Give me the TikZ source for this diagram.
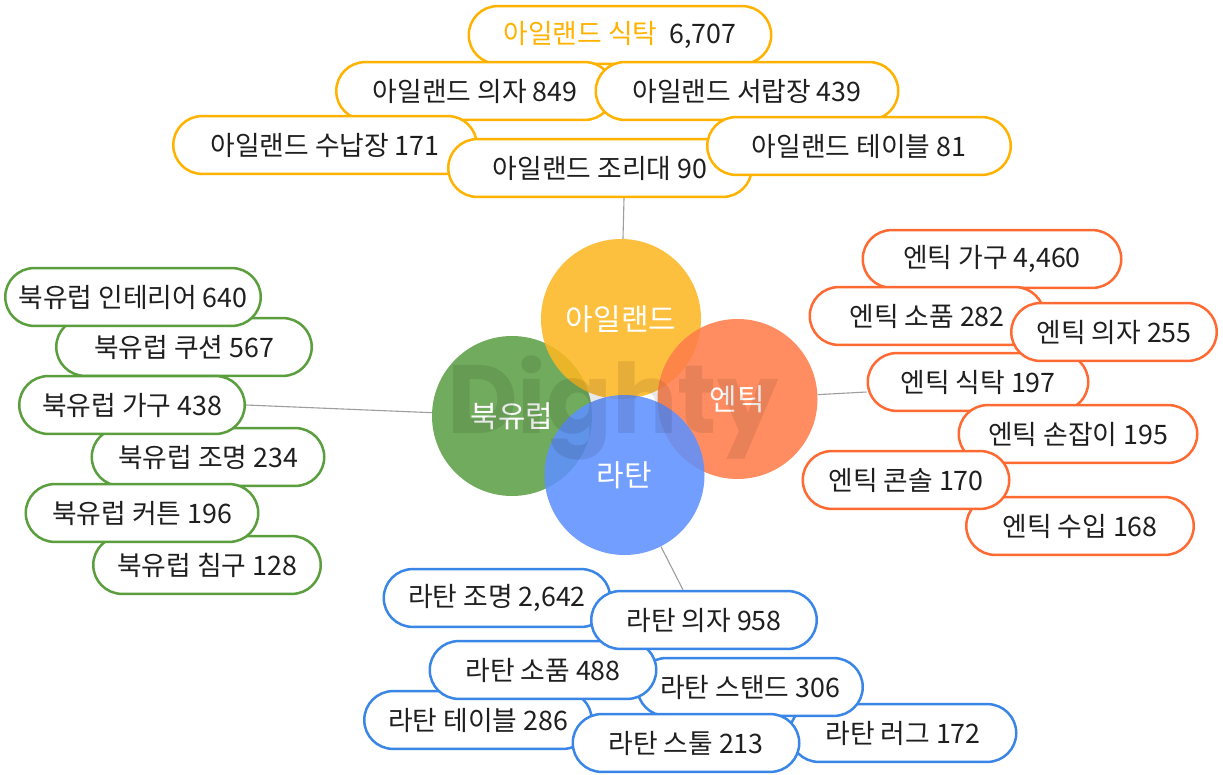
\documentclass[tikz,border=0pt]{standalone}
\usepackage{fontspec}
\setmainfont{Noto Sans CJK KR}
\newfontfamily\wmfont{Poppins}
\definecolor{irlline}{HTML}{FFB300}
\definecolor{irlfill}{HTML}{FDB722}
\definecolor{nrdline}{HTML}{5A9E3E}
\definecolor{nrdfill}{HTML}{5C9F45}
\definecolor{antline}{HTML}{FF6A33}
\definecolor{antfill}{HTML}{FF7D4A}
\definecolor{ratline}{HTML}{3A86E6}
\definecolor{ratfill}{HTML}{5E90FF}
\tikzset{
  pill/.style={draw, fill=white, rectangle, rounded corners=28.9pt, line width=2.5pt,
    minimum height=57.8pt, inner sep=0pt, text=black!88,
    font=\fontsize{26.8pt}{31pt}\selectfont},
  irl/.style={pill, draw=irlline},
  nrd/.style={pill, draw=nrdline},
  ant/.style={pill, draw=antline},
  rat/.style={pill, draw=ratline},
  hub/.style={circle, minimum size=160pt, inner sep=0pt, fill opacity=0.87,
    text opacity=1, text=white, font=\fontsize{30pt}{34pt}\selectfont},
  link/.style={draw=black!38, line width=1.1pt}
}
\begin{document}
\begin{tikzpicture}[x=1pt,y=-1pt]
  \useasboundingbox (0,0) rectangle (1223,775);
  \fill[white] (0,0) rectangle (1223,775);

  \node[hub, fill=nrdfill] (nordic) at (512,416) {북유럽};
  \node[hub, fill=irlfill] (ireland) at (621,319) {아일랜드};
  \node[hub, fill=antfill] (antique) at (737.5,399) {엔틱};
  \node[hub, fill=ratfill] (rattan) at (624.5,475) {라탄};
  \node[anchor=base, text=black, text opacity=0.09,
    font=\wmfont\bfseries\fontsize{97pt}{97pt}\selectfont] (mark) at (613,433) {Dighty};

  \node[irl, minimum width=302.5pt] (irl1) at (620,35) {{\color{irlline}아일랜드 식탁}\ \ 6,707};
  \node[irl, minimum width=277.5pt] (irl2) at (475,91) {아일랜드 의자 849};
  \node[irl, minimum width=302.5pt] (irl3) at (747,91) {아일랜드 서랍장 439};
  \node[irl, minimum width=303.5pt] (irl4) at (325,145) {아일랜드 수납장 171};
  \node[irl, minimum width=303.5pt] (irl5) at (600,168) {아일랜드 조리대 90};
  \node[irl, minimum width=303.5pt] (irl6) at (859,146) {아일랜드 테이블 81};

  \node[nrd, minimum width=255.5pt] (nrd2) at (184,347) {북유럽 쿠션 567};
  \node[nrd, minimum width=255.5pt] (nrd1) at (133,297) {북유럽 인테리어 640};
  \node[nrd, minimum width=232.5pt] (nrd4) at (208,457) {북유럽 조명 234};
  \node[nrd, minimum width=225.5pt] (nrd3) at (132,405) {북유럽 가구 438};
  \node[nrd, minimum width=227.5pt] (nrd6) at (207,565) {북유럽 침구 128};
  \node[nrd, minimum width=232.5pt] (nrd5) at (142,513) {북유럽 커튼 196};

  \node[ant, minimum width=258.5pt] (ant1) at (992,259) {엔틱 가구 4,460};
  \node[ant, minimum width=234.5pt] (ant2) at (927,316) {엔틱 소품 282};
  \node[ant, minimum width=220.5pt] (ant4) at (978,382) {엔틱 식탁 197};
  \node[ant, minimum width=205.5pt] (ant3) at (1114,332) {엔틱 의자 255};
  \node[ant, minimum width=238.5pt] (ant5) at (1078,434) {엔틱 손잡이 195};
  \node[ant, minimum width=227.5pt] (ant7) at (1080,526) {엔틱 수입 168};
  \node[ant, minimum width=206.5pt] (ant6) at (906,480) {엔틱 콘솔 170};

  \node[rat, minimum width=226.5pt] (rat1) at (497,598) {라탄 조명 2,642};
  \node[rat, minimum width=226.5pt] (rat7) at (903,733) {라탄 러그 172};
  \node[rat, minimum width=227.5pt] (rat5) at (478,720) {라탄 테이블 286};
  \node[rat, minimum width=225.5pt] (rat4) at (750,687) {라탄 스탠드 306};
  \node[rat, minimum width=226.5pt] (rat3) at (543,670) {라탄 소품 488};
  \node[rat, minimum width=225.5pt] (rat2) at (704,620) {라탄 의자 958};
  \node[rat, minimum width=226.5pt] (rat6) at (686,743) {라탄 스툴 213};

  \draw[link] (ireland) -- ([xshift=24pt]irl5.south);
  \draw[link] (nordic) -- (nrd3.east);
  \draw[link] (antique) -- ([yshift=-10pt]ant4.west);
  \draw[link] (rattan) -- ([xshift=-21pt]rat2.north);
\end{tikzpicture}
\end{document}
